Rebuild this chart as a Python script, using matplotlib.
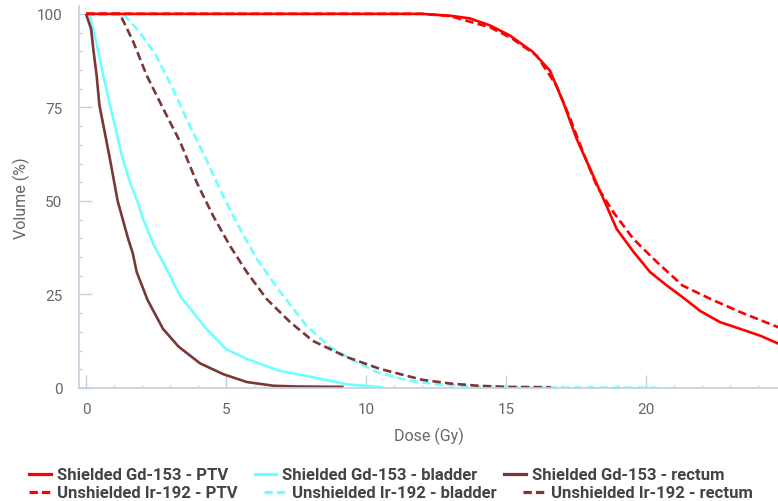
import matplotlib
matplotlib.use("Agg")
import matplotlib.pyplot as plt
from matplotlib.lines import Line2D
from matplotlib.ticker import MultipleLocator

# ---- data (dose in Gy, volume in %) ----
sh_ptv_d = [0, 12.0, 13.0, 13.7, 14.43, 15.14, 15.96, 16.57, 17.04, 17.52, 18.0, 18.48, 18.95,
            19.55, 20.14, 20.74, 21.3, 21.93, 22.64, 23.36, 24.07, 24.8]
sh_ptv_v = [100, 100, 99.5, 98.8, 96.9, 94.2, 89.8, 84.8, 76.4, 66.6, 58.6, 50.5, 42.5,
            36.4, 31.0, 27.4, 24.3, 20.6, 17.6, 15.8, 14.0, 11.6]
un_ptv_d = [0, 12.0, 13.0, 14.43, 15.2, 16.1, 16.8, 17.29, 17.75, 18.24, 18.83, 19.55, 20.38,
            21.3, 22.3, 23.36, 24.8]
un_ptv_v = [100, 100, 99.4, 96.4, 93.5, 88.8, 80.8, 72.0, 63.0, 54.0, 47.0, 39.8, 33.7,
            27.4, 23.8, 20.3, 16.0]

sh_bl_d = [0, 0.12, 0.38, 0.62, 0.86, 1.1, 1.3, 1.57, 1.83, 2.05, 2.4, 2.88, 3.36, 4.3, 5.0,
           5.74, 6.9, 8.1, 9.3, 10.4, 10.6]
sh_bl_v = [100, 100, 92, 83.5, 75.5, 68, 61.5, 55, 50, 45, 38.5, 31.8, 24.6, 15.8, 10.4,
           7.8, 4.6, 2.9, 1.0, 0.3, 0.2]
un_bl_d = [0, 1.33, 1.93, 2.5, 3.1, 3.71, 4.3, 4.9, 5.5, 6.1, 6.93, 7.88, 8.7, 9.67, 10.4,
           11.5, 12.5, 14.0, 16.0, 18.0, 20.4]
un_bl_v = [100, 100, 95, 88.9, 80, 70, 61, 51.3, 42.5, 34.5, 25.7, 16.6, 11.0, 6.9, 4.2,
           2.0, 1.0, 0.4, 0.15, 0.1, 0.05]

sh_re_d = [0, 0.18, 0.26, 0.38, 0.48, 0.6, 0.86, 1.13, 1.5, 1.67, 1.81, 2.2, 2.75, 3.3, 4.07,
           4.9, 5.74, 6.7, 7.5, 9.2]
sh_re_v = [100, 96, 90.6, 83.5, 75.5, 71, 61, 50, 40, 36, 31, 23.5, 15.8, 11.1, 6.6,
           3.7, 1.6, 0.6, 0.4, 0.3]
un_re_d = [0, 1.21, 1.69, 2.17, 2.76, 3.36, 3.95, 4.54, 5.14, 5.74, 6.45, 7.29, 8.1, 9.3, 10.5,
           12.0, 13.0, 14.0, 15.0, 16.6]
un_re_v = [100, 100, 92.5, 83.5, 74.6, 65.8, 55, 46, 38, 31, 23.8, 17.6, 12.6, 8.3, 5.1,
           2.2, 1.2, 0.6, 0.3, 0.2]

labels = ["Shielded Gd-153 - PTV", "Shielded Gd-153 - bladder", "Shielded Gd-153 - rectum",
          "Unshielded Ir-192 - PTV", "Unshielded Ir-192 - bladder", "Unshielded Ir-192 - rectum"]

RED = "#ff0000"
CYAN = "#70ffff"
BROWN = "#7b3636"
SPINE = "#c3d0df"
TXT = "#666666"

plt.rcParams['font.family'] = ['Roboto', 'DejaVu Sans']

fig = plt.figure(figsize=(7.78, 5.02), dpi=100)
ax = fig.add_axes([79 / 778, 1 - 389 / 502, 1 - 79 / 778, (389 - 7) / 502])

LW = 1.9
DASH = (3.2, 1.6)
series = [
    (sh_ptv_d, sh_ptv_v, RED, '-'),
    (sh_bl_d, sh_bl_v, CYAN, '-'),
    (sh_re_d, sh_re_v, BROWN, '-'),
    (un_ptv_d, un_ptv_v, RED, '--'),
    (un_bl_d, un_bl_v, CYAN, '--'),
    (un_re_d, un_re_v, BROWN, '--'),
]
draw_order = [4, 5, 1, 2, 3, 0]
for i in draw_order:
    d, v, c, ls = series[i]
    kw = dict(color=c, lw=LW, solid_joinstyle='round', solid_capstyle='butt')
    if ls == '--':
        ax.plot(d, v, linestyle=(0, DASH), **kw)
    else:
        ax.plot(d, v, **kw)

ax.set_xlim(-0.25, 24.71)
ax.set_ylim(0, 102.1)

for s in ['top', 'right']:
    ax.spines[s].set_visible(False)
for s in ['left', 'bottom']:
    ax.spines[s].set_color(SPINE)
    ax.spines[s].set_linewidth(1.2)

ax.xaxis.set_major_locator(MultipleLocator(5))
ax.xaxis.set_minor_locator(MultipleLocator(1))
ax.yaxis.set_major_locator(MultipleLocator(25))
ax.yaxis.set_minor_locator(MultipleLocator(5))
ax.tick_params(axis='both', which='major', direction='in', length=9.5, width=1.0,
               color=SPINE, labelcolor=TXT, labelsize=11)
ax.tick_params(axis='both', which='minor', direction='in', length=2.2, width=1.0, color=SPINE)
ax.tick_params(axis='y', which='major', pad=12)
ax.tick_params(axis='x', which='major', pad=10)

ax.set_xlabel("Dose (Gy)", color=TXT, fontsize=11.5, labelpad=8)
ax.set_ylabel("Volume (%)", color=TXT, fontsize=11.5, labelpad=5)

# legend: two independent rows (flow layout)
leg_kw = dict(ncol=3, frameon=False, handlelength=1.3, handletextpad=0.36, columnspacing=1.6,
              borderaxespad=0, borderpad=0, prop={'family': 'Roboto', 'weight': 'bold', 'size': 12},
              labelcolor='#444444', loc='center left')
row1 = [Line2D([], [], color=series[i][2], lw=LW + 0.4) for i in range(3)]
row2 = [Line2D([], [], color=series[i][2], lw=LW + 0.4, linestyle=(0, (2.6, 1.3))) for i in range(3, 6)]
fig.legend(row1, labels[:3], bbox_to_anchor=(29 / 778, 1 - 476 / 502), **leg_kw)
fig.legend(row2, labels[3:], bbox_to_anchor=(29 / 778, 1 - 494 / 502), **leg_kw)

fig.savefig("out.png", dpi=100)
